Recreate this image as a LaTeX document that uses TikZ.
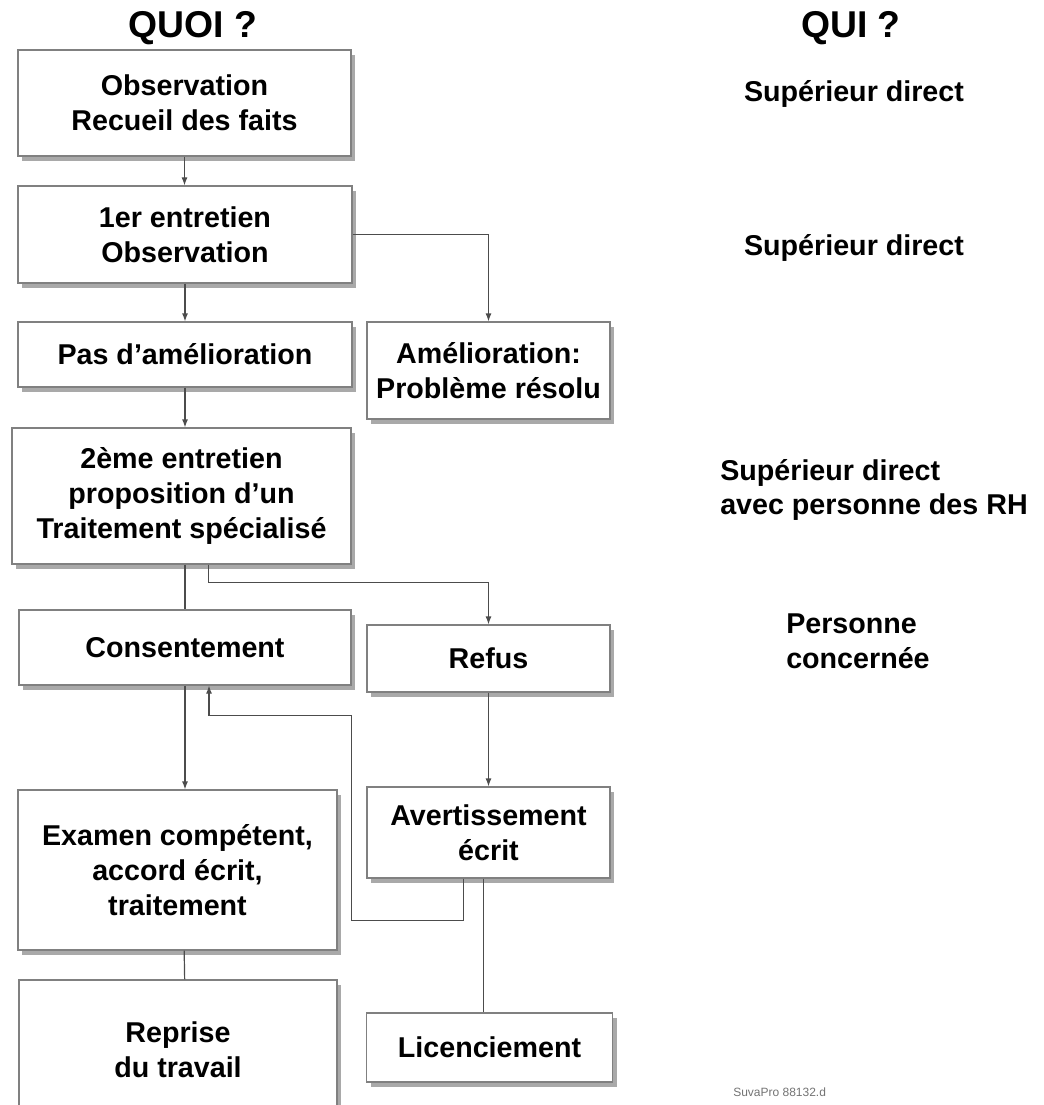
\documentclass[tikz,border=0pt]{standalone}
\usepackage{xcolor}
\usepackage{fontspec}
\setmainfont{Liberation Sans}
\usepackage{tikz}
\usetikzlibrary{shadows,arrows.meta}

\begin{document}
\begin{tikzpicture}[x=0.75pt,y=0.75pt,yscale=-1,xscale=1,
  box/.style={draw=black!50,line width=0.9pt,fill=white,align=center,inner sep=0.75pt,
    font=\fontsize{21.5}{26}\selectfont\bfseries,
    drop shadow={shadow xshift=3pt,shadow yshift=-4pt,fill=black!45,opacity=0.75}},
  who/.style={inner sep=0.75pt,font=\fontsize{21.5}{26}\selectfont\bfseries},
  head/.style={inner sep=0.75pt,font=\fontsize{28}{32}\selectfont\bfseries},
  link/.style={draw=black!70,line width=0.9pt},
  >={Latex[length=6pt,width=4.5pt]}]
\useasboundingbox (0,0) rectangle (1043,1105);

% Text Node
\draw (193,28) node [head] (quoi) {QUOI ?};
% Text Node
\draw (851,28) node [head] (qui) {QUI ?};

%Shape: Rectangle
\draw (184.5,103) node [box,minimum width=249.75pt,minimum height=79.5pt] (obs) {Observation\\Recueil des faits};
%Shape: Rectangle
\draw (185,234.5) node [box,minimum width=250.5pt,minimum height=72.75pt] (ent1) {1er entretien\\Observation};
%Shape: Rectangle
\draw (185,354.5) node [box,minimum width=250.5pt,minimum height=48.75pt] (pas) {Pas d’amélioration};
%Shape: Rectangle
\draw (488.5,370.5) node [box,minimum width=182.25pt,minimum height=72.75pt] (amel) {Amélioration:\\Problème résolu};
%Shape: Rectangle
\draw (181.5,496) node [box,minimum width=254.25pt,minimum height=102pt] (ent2) {2ème entretien\\proposition d’un\\Traitement spécialisé};
%Shape: Rectangle
\draw (185,647.5) node [box,minimum width=249pt,minimum height=56.25pt] (cons) {Consentement};
%Shape: Rectangle
\draw (488.5,658.5) node [box,minimum width=182.25pt,minimum height=50.25pt] (refus) {Refus};
%Shape: Rectangle
\draw (177.5,870) node [box,minimum width=239.25pt,minimum height=120pt] (exam) {Examen compétent,\\accord écrit,\\traitement};
%Shape: Rectangle
\draw (488.5,832.5) node [box,minimum width=182.25pt,minimum height=68.25pt] (avert) {Avertissement\\écrit};
%Shape: Rectangle
\draw (178,1050) node [box,minimum width=238.5pt,minimum height=105pt] (repr) {Reprise\\du travail};
%Shape: Rectangle
\draw (489.5,1047.5) node [box,minimum width=184.5pt,minimum height=51.75pt] (licen) {Licenciement};

% Text Node
\draw (854,94) node [who] (sup1) {Supérieur direct};
% Text Node
\draw (854,248) node [who] (sup2) {Supérieur direct};
% Text Node
\draw (719,490) node [who,anchor=west,align=left] (sup3) {Supérieur direct\\avec personne des RH};
% Text Node
\draw (785,641) node [who,anchor=west,align=left] (pers) {Personne\\concernée};
% Text Node
\draw (732,1092) node [anchor=west,inner sep=0.75pt,text=black!55,font=\fontsize{9}{10}\selectfont] (ref) {SuvaPro 88132.d};

%Straight Lines
\draw [link,->] (obs.south) -- (obs.south |- ent1.north);
\draw [link,->] (ent1.south) -- (ent1.south |- pas.north);
\draw [link,->] (ent1.east) -| (amel.north);
\draw [link,->] (pas.south) -- (pas.south |- ent2.north);
\draw [link] (ent2.south -| cons.north) -- (cons.north);
\draw [link,->] ([xshift=20pt]ent2.south) -- ++(0,18) -| (refus.north);
\draw [link,->] (cons.south) -- (cons.south |- exam.north);
\draw [link,->] (refus.south) -- (avert.north);
\draw [link,->] ([xshift=-19pt]avert.south) -- ++(0,42) -- ++(-112,0) -- ++(0,-205) -| ([xshift=18pt]cons.south);
\draw [link] ([xshift=-4pt]avert.south) -- ([xshift=-4pt]avert.south |- licen.north);
\draw [link] ([xshift=5pt]exam.south) -- ([xshift=5pt]repr.north);

\end{tikzpicture}
\end{document}
